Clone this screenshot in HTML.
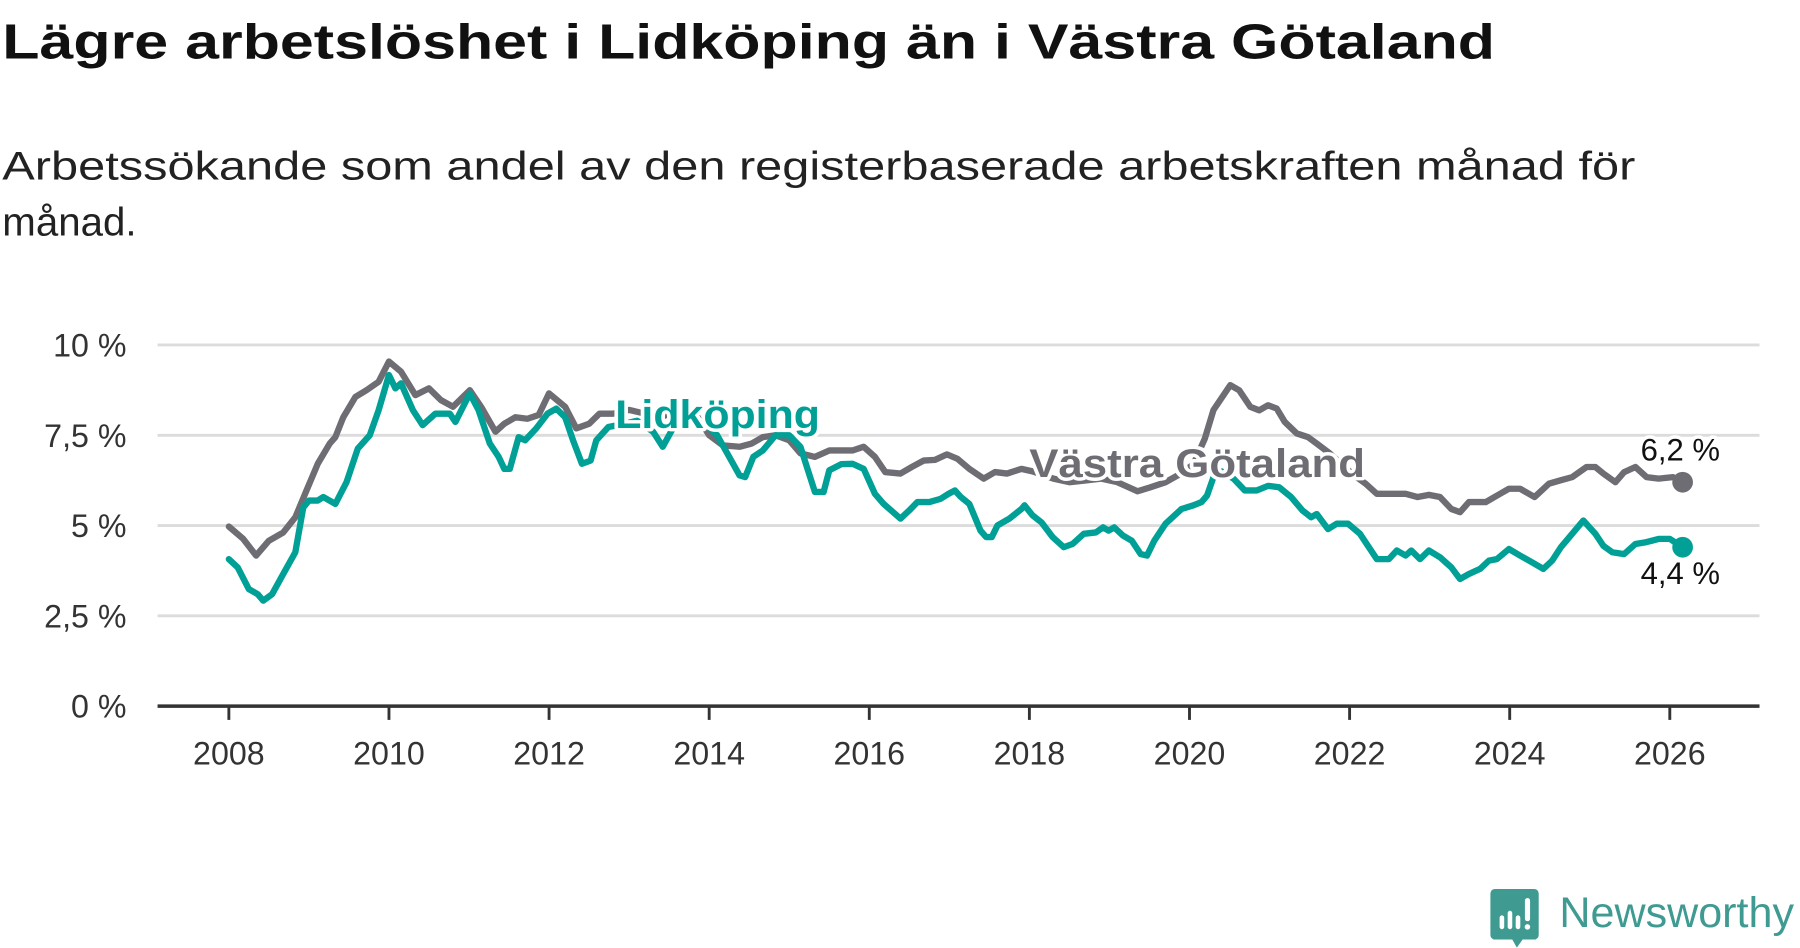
<!DOCTYPE html>
<html><head><meta charset="utf-8"><style>
html,body{margin:0;padding:0;background:#fff;}
svg{display:block;}
text{font-family:"Liberation Sans","DejaVu Sans",sans-serif;}
</style></head><body>
<svg id="chart" width="1800" height="948" viewBox="0 0 1565.2 824.35" xmlns="http://www.w3.org/2000/svg">
<text x="2" y="51" font-size="43" font-weight="bold" fill="#111" textLength="1298" lengthAdjust="spacingAndGlyphs">Lägre arbetslöshet i Lidköping än i Västra Götaland</text>
<text x="2" y="156" font-size="35" fill="#222" textLength="1420" lengthAdjust="spacingAndGlyphs">Arbetssökande som andel av den registerbaserade arbetskraften månad för</text>
<text x="2" y="205" font-size="35" fill="#222">månad.</text>
<g id="grid"></g>
<g id="series"></g>
<g id="labels"></g>
<g>
<path d="M1300,773 h34 a4,4 0 0 1 4,4 v36 a4,4 0 0 1 -4,4 h-10 l-5,7 l-4,-7 h-15 a4,4 0 0 1 -4,-4 v-36 a4,4 0 0 1 4,-4z" fill="#3f9a92"/>
<rect x="1304" y="796" width="4" height="12" rx="2" fill="#fff"/>
<rect x="1311" y="792" width="4" height="16" rx="2" fill="#fff"/>
<rect x="1318" y="796" width="4" height="12" rx="2" fill="#fff"/>
<rect x="1326" y="781" width="4.5" height="20" rx="2" fill="#fff"/>
<circle cx="1328.2" cy="806" r="2.4" fill="#fff"/>
<text x="1356" y="806" font-size="37" fill="#3f9a92" textLength="204" lengthAdjust="spacingAndGlyphs">Newsworthy</text>
</g>
</svg>
<script>
const yTicks = [0, 2.5, 5, 7.5, 10];
const yTickLabels = ["0 %", "2,5 %", "5 %", "7,5 %", "10 %"];
const xTicks = [2008, 2010, 2012, 2014, 2016, 2018, 2020, 2022, 2024, 2026];
const vgDates = [2008.0,2008.18,2008.34,2008.5,2008.68,2008.83,2008.97,2009.11,2009.26,2009.33,2009.43,2009.58,2009.72,2009.87,2010.0,2010.15,2010.33,2010.5,2010.65,2010.8,2011.01,2011.15,2011.33,2011.44,2011.58,2011.73,2011.87,2012.0,2012.2,2012.34,2012.5,2012.63,2012.74,2012.8,2013.0,2013.2,2013.4,2013.6,2013.8,2014.0,2014.17,2014.38,2014.53,2014.67,2014.83,2015.0,2015.14,2015.32,2015.5,2015.79,2015.93,2016.07,2016.2,2016.39,2016.53,2016.68,2016.82,2016.97,2017.1,2017.25,2017.43,2017.57,2017.72,2017.9,2018.04,2018.3,2018.5,2018.7,2018.9,2019.1,2019.35,2019.5,2019.7,2019.9,2020.05,2020.19,2020.3,2020.51,2020.62,2020.76,2020.87,2020.98,2021.09,2021.19,2021.34,2021.48,2021.59,2021.75,2021.9,2022.05,2022.2,2022.34,2022.7,2022.85,2022.99,2023.13,2023.27,2023.38,2023.49,2023.7,2023.88,2023.99,2024.13,2024.31,2024.49,2024.63,2024.78,2024.96,2025.07,2025.17,2025.32,2025.43,2025.57,2025.71,2025.86,2026.04,2026.16];
const vgValues = [4.97,4.63,4.17,4.58,4.81,5.23,5.97,6.71,7.27,7.45,8.0,8.56,8.75,8.98,9.54,9.26,8.61,8.8,8.47,8.29,8.75,8.29,7.6,7.82,8.0,7.96,8.06,8.66,8.29,7.69,7.82,8.1,8.1,8.1,8.2,8.1,8.0,8.2,8.2,7.5,7.22,7.18,7.27,7.45,7.5,7.36,7.0,6.9,7.08,7.08,7.18,6.9,6.48,6.44,6.62,6.8,6.82,6.97,6.85,6.57,6.3,6.48,6.44,6.57,6.5,6.3,6.2,6.25,6.3,6.2,5.95,6.05,6.2,6.45,6.7,7.4,8.2,8.89,8.75,8.29,8.19,8.33,8.24,7.87,7.55,7.45,7.27,7.0,6.7,6.4,6.16,5.88,5.88,5.79,5.85,5.79,5.46,5.37,5.65,5.65,5.88,6.02,6.02,5.79,6.16,6.25,6.34,6.62,6.62,6.44,6.2,6.48,6.62,6.34,6.3,6.34,6.2];
const liDates = [2008.0,2008.11,2008.25,2008.36,2008.43,2008.54,2008.68,2008.83,2008.93,2009.0,2009.11,2009.18,2009.33,2009.47,2009.61,2009.76,2009.87,2010.0,2010.08,2010.15,2010.3,2010.42,2010.58,2010.76,2010.83,2011.01,2011.12,2011.26,2011.37,2011.44,2011.51,2011.62,2011.7,2011.84,2011.98,2012.09,2012.2,2012.3,2012.41,2012.52,2012.59,2012.74,2012.9,2013.1,2013.3,2013.42,2013.55,2013.75,2013.95,2014.1,2014.25,2014.38,2014.45,2014.55,2014.67,2014.83,2015.0,2015.14,2015.32,2015.43,2015.5,2015.65,2015.79,2015.93,2016.07,2016.18,2016.39,2016.5,2016.6,2016.75,2016.89,2016.99,2017.07,2017.14,2017.25,2017.39,2017.46,2017.53,2017.6,2017.75,2017.9,2017.94,2018.04,2018.15,2018.29,2018.43,2018.54,2018.68,2018.83,2018.92,2018.99,2019.06,2019.17,2019.28,2019.39,2019.47,2019.56,2019.7,2019.9,2020.05,2020.15,2020.22,2020.3,2020.4,2020.55,2020.69,2020.84,2020.98,2021.12,2021.27,2021.41,2021.52,2021.59,2021.73,2021.84,2021.98,2022.13,2022.34,2022.49,2022.59,2022.7,2022.77,2022.88,2022.99,2023.13,2023.27,2023.38,2023.49,2023.63,2023.74,2023.84,2023.99,2024.13,2024.28,2024.42,2024.53,2024.64,2024.78,2024.92,2025.07,2025.17,2025.28,2025.43,2025.57,2025.71,2025.86,2026.0,2026.16];
const liValues = [4.07,3.84,3.24,3.1,2.92,3.1,3.66,4.26,5.5,5.69,5.69,5.79,5.6,6.2,7.13,7.5,8.19,9.17,8.8,8.94,8.19,7.78,8.1,8.1,7.87,8.66,8.19,7.27,6.9,6.57,6.57,7.45,7.36,7.69,8.1,8.24,8.0,7.36,6.71,6.8,7.36,7.73,7.8,7.9,7.6,7.18,7.7,7.9,7.8,7.5,6.9,6.39,6.34,6.9,7.08,7.5,7.5,7.18,5.93,5.93,6.53,6.7,6.71,6.57,5.88,5.6,5.19,5.42,5.65,5.65,5.74,5.88,5.97,5.8,5.6,4.86,4.68,4.68,5.0,5.19,5.46,5.56,5.28,5.09,4.68,4.4,4.49,4.77,4.81,4.95,4.86,4.95,4.72,4.58,4.21,4.17,4.58,5.05,5.46,5.56,5.65,5.83,6.34,6.5,6.3,5.97,5.97,6.1,6.06,5.79,5.42,5.23,5.32,4.9,5.05,5.05,4.77,4.07,4.07,4.31,4.17,4.31,4.07,4.31,4.12,3.84,3.52,3.66,3.8,4.03,4.07,4.35,4.17,3.98,3.8,4.03,4.4,4.77,5.14,4.77,4.44,4.26,4.21,4.49,4.54,4.63,4.63,4.4];
const endLabels = ["6,2 %", "4,4 %"];

const NS = "http://www.w3.org/2000/svg";
const X0 = 199, X1 = 1452, Y0 = 614, Y10 = 300;
function xs(t){ return X0 + (t - 2008) * (X1 - X0) / 18; }
function ys(v){ return Y0 + v * (Y10 - Y0) / 10; }
function mk(tag, attrs, parent){ const e = document.createElementNS(NS, tag); for (const k in attrs) e.setAttribute(k, attrs[k]); parent.appendChild(e); return e; }
const grid = document.getElementById('grid');
yTicks.forEach((v, i) => {
  if (v !== 0) {
    const l = mk('line', {x1:137, x2:1530, y1:ys(v), y2:ys(v), stroke:'#dcdcdc', 'stroke-width':2.5}, grid);
    
    
  }
  const t = mk('text', {x:110, y:ys(v)+10, 'font-size':28, fill:'#333', 'text-anchor':'end'}, grid);
  
  
  t.textContent = yTickLabels[i];
});
xTicks.forEach(yr => {
  const l = mk('line', {x1:xs(yr), x2:xs(yr), y1:Y0, y2:626, stroke:'#333', 'stroke-width':2.5}, grid);
  
  
  const t = mk('text', {x:xs(yr), y:665, 'font-size':28, fill:'#333', 'text-anchor':'middle'}, grid);
  
  
  t.textContent = yr;
});
const axis = mk('line', {x1:137, x2:1530, y1:Y0, y2:Y0, stroke:'#333', 'stroke-width':3}, grid);



const series = document.getElementById('series');
function drawLine(dates, vals, color, name){
  const d = dates.map((t, i) => (i ? 'L' : 'M') + xs(t).toFixed(1) + ',' + ys(vals[i]).toFixed(1)).join('');
  const p = mk('path', {d:d, fill:'none', stroke:color, 'stroke-width':5.5, 'stroke-linejoin':'round', 'stroke-linecap':'round'}, series);
  
  
  const n = dates.length - 1;
  const c = mk('circle', {cx:xs(dates[n]), cy:ys(vals[n]), r:9, fill:color}, series);
  
  
}
drawLine(vgDates, vgValues, '#6e6d73', 'vastra-gotaland');
drawLine(liDates, liValues, '#00a096', 'lidkoping');

const labels = document.getElementById('labels');
function lab(x, y, txt, size, weight, color, anchor, name, len){
  const t = mk('text', {x:x, y:y, 'font-size':size, 'font-weight':weight, fill:color, 'text-anchor':anchor, stroke:'#fff', 'stroke-width':6, 'paint-order':'stroke', 'stroke-linejoin':'round'}, labels);
  if (len) { t.setAttribute('textLength', len); t.setAttribute('lengthAdjust', 'spacingAndGlyphs'); }
  
  
  t.textContent = txt;
}
lab(535, 372, 'Lidköping', 35, 'bold', '#00a096', 'start', 'lidkoping-label', 178);
lab(895, 415, 'Västra Götaland', 35, 'bold', '#6e6d73', 'start', 'vastra-gotaland-label', 292);
const n1 = vgDates.length - 1, n2 = liDates.length - 1;
lab(xs(vgDates[n1]) - 2, ys(vgValues[n1]) - 19, endLabels[0], 27, 'normal', '#111', 'middle', 'vastra-gotaland-end-value');
lab(xs(liDates[n2]) - 2, ys(liValues[n2]) + 32, endLabels[1], 27, 'normal', '#111', 'middle', 'lidkoping-end-value');
</script>
</body></html>
